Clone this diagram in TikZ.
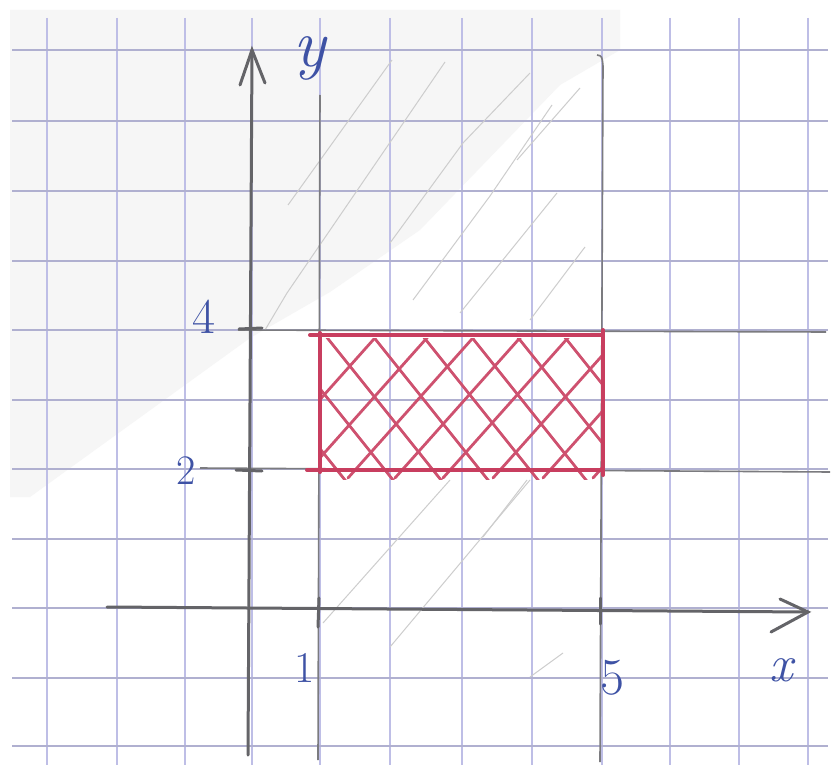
\documentclass[tikz,border=0pt]{standalone}
\usepackage{fontspec}
\begin{document}
\begin{tikzpicture}[x=1pt,y=-1pt]
\definecolor{gridv}{RGB}{190,190,230}
\definecolor{gridh}{RGB}{176,176,208}
\definecolor{pencil}{RGB}{100,100,104}
\definecolor{lightpencil}{RGB}{205,205,205}
\definecolor{redpen}{RGB}{200,62,95}
\definecolor{bluepen}{RGB}{62,82,165}
\definecolor{smudge}{RGB}{246,246,246}
\tikzset{
  gridlinev/.style={gridv, line width=1.4pt},
  gridlineh/.style={gridh, line width=1.4pt},
  axisline/.style={pencil, line width=3pt, line cap=round},
  pencilline/.style={pencil!85, line width=1.6pt},
  faintline/.style={lightpencil, line width=1pt},
  redline/.style={redpen, line width=4pt, line cap=round},
  hatchline/.style={redpen!90, line width=2.8pt, line cap=round},
  handlabel/.style={bluepen, inner sep=0pt}
}
\useasboundingbox (0,0) rectangle (831,776);
\fill[white] (0,0) rectangle (831,776);
% smudge on the paper
\fill[smudge] (10,10) -- (620,10) -- (620,50) -- (560,85) -- (420,230) -- (330,292) -- (250,338) -- (30,497) -- (10,497) -- cycle;
% grid
\foreach \gx in {47,117,185,252,320,390,462,532,602,670,739,808}
  \draw[gridlinev] (\gx,18) -- (\gx,765);
\foreach \gy in {50,121,191,261,330,400,469,539,608,678,746}
  \draw[gridlineh] (12,\gy) -- (828,\gy);
% faint pencil hatching
\draw[faintline] (288,205) -- (392,60);
\draw[faintline] (265,330) -- (287,293) -- (445,62);
\draw[faintline] (390,243) -- (463,143) -- (530,73);
\draw[faintline] (413,300) -- (490,196) -- (552,105);
\draw[faintline] (517,160) -- (580,88);
\draw[faintline] (460,313) -- (557,193);
\draw[faintline] (530,320) -- (585,247);
\draw[faintline] (323,623) -- (450,480);
\draw[faintline] (390,647) -- (530,480);
\draw[faintline] (483,537) -- (527,480);
\draw[faintline] (530,677) -- (563,653);
% pencil lines x=1, x=5, y=2, y=4
\coordinate (xa) at (320,95);
\coordinate (xb) at (318,760);
\coordinate (xc) at (597,55);
\coordinate (xd) at (603,66);
\coordinate (xe) at (600,762);
\draw[pencilline] (xa) -- (xb);
\draw[pencilline] (xc) .. controls (602,56) .. (xd) -- (xe);
\coordinate (ya) at (238,330);
\coordinate (yb) at (826,332);
\coordinate (yc) at (200,468);
\coordinate (yd) at (830,472);
\draw[pencilline] (ya) -- (yb);
\draw[pencilline] (yc) -- (yd);
% axes
\coordinate (ybot) at (248,755);
\coordinate (ytop) at (252,50);
\coordinate (yl) at (240,85);
\coordinate (yr) at (265,83);
\draw[axisline] (ybot) -- (ytop);
\draw[axisline] (yl) -- (ytop) -- (yr);
\coordinate (xleft) at (107,607);
\coordinate (xtip) at (808,612);
\coordinate (xu) at (780,599);
\coordinate (xl) at (771,632);
\draw[axisline] (xleft) -- (xtip);
\draw[axisline] (xu) -- (xtip) -- (xl);
% ticks
\draw[axisline] (319,598) -- (318,627);
\draw[axisline] (600,598) -- (600,624);
\draw[axisline] (239,329) -- (262,328);
\draw[axisline] (236,470) -- (262,471);
% red region hatch
\begin{scope}
  \clip (320,338) rectangle (602,479);
  \foreach \t in {229,277,325,372,422,470,516,563}
    \draw[hatchline] (\t,335) -- ++(128,160);
  \foreach \b in {250,302,348,395,443,493,543,593}
    \draw[hatchline] (\b,478) -- ++(140,-157);
\end{scope}
% red rectangle
\coordinate (ra) at (310,335);
\coordinate (rb) at (602,335);
\coordinate (rc) at (307,470);
\coordinate (rd) at (602,470);
\draw[redline] (ra) -- (rb);
\draw[redline] (rc) -- (rd);
\draw[redline] (320,333) -- (320,472);
\draw[redline] (603,330) -- (603,475);
% labels
\node[handlabel, font=\fontsize{68}{68}\selectfont\itshape] (ly) at (310,58) {y};
\node[handlabel, font=\fontsize{52}{52}\selectfont\itshape] (lx) at (781,670) {x};
\node[handlabel, font=\fontsize{50}{50}\selectfont] (l4) at (204,317) {4};
\node[handlabel, font=\fontsize{42}{42}\selectfont] (l2) at (186,471) {2};
\node[handlabel, font=\fontsize{44}{44}\selectfont] (l1) at (305,668) {1};
\node[handlabel, font=\fontsize{52}{52}\selectfont] (l5) at (612,678) {5};
\end{tikzpicture}
\end{document}
